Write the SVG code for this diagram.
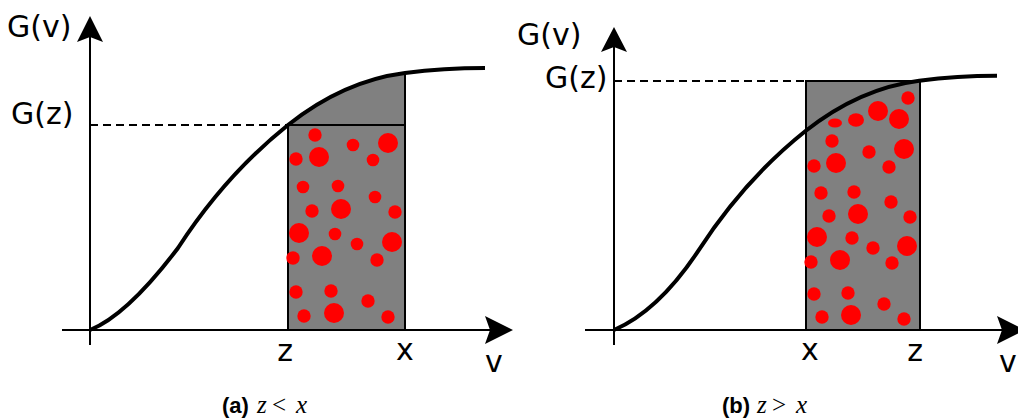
<svg xmlns="http://www.w3.org/2000/svg" width="1018" height="418" viewBox="0 0 1018 418">
<style>
.ax{stroke:#000;stroke-width:2;fill:none}
.cv{stroke:#000;stroke-width:4;fill:none;stroke-linecap:butt}
.box{fill:#808080;stroke:#000;stroke-width:2}
.dash{stroke:#000;stroke-width:2;stroke-dasharray:8,5;fill:none}
.dot{fill:#ff0000}
.lbl{font-family:"DejaVu Sans",sans-serif;font-size:30px;fill:#000}
.cap{font-family:"Liberation Sans",Arial,sans-serif;font-weight:bold;font-size:22px;fill:#000}
.math{font-family:"Liberation Serif","Times New Roman",serif;font-size:25px;fill:#000}
.head{fill:#000}
</style>
<g id="panel-a">
  <g id="a-region">
    <path class="box" d="M288,125 C327,94 366,78 405,73 L405,125 Z"/>
    <rect class="box" x="288" y="125" width="117" height="205"/>
  </g>
  <g id="a-dots">
    <circle class="dot" cx="315" cy="135" r="6.7"/>
    <circle class="dot" cx="353" cy="145" r="6.3"/>
    <circle class="dot" cx="388" cy="143" r="10"/>
    <circle class="dot" cx="296" cy="159" r="6.7"/>
    <circle class="dot" cx="319" cy="157" r="10"/>
    <circle class="dot" cx="373" cy="160" r="6.3"/>
    <circle class="dot" cx="303" cy="187" r="6.3"/>
    <circle class="dot" cx="338" cy="186" r="6.3"/>
    <circle class="dot" cx="375" cy="197" r="6.3"/>
    <circle class="dot" cx="312" cy="211" r="6.7"/>
    <circle class="dot" cx="341" cy="209" r="10"/>
    <circle class="dot" cx="395" cy="212" r="6.7"/>
    <circle class="dot" cx="299" cy="233" r="10"/>
    <circle class="dot" cx="335" cy="234" r="6.3"/>
    <circle class="dot" cx="357" cy="244" r="6.3"/>
    <circle class="dot" cx="392" cy="242" r="10"/>
    <circle class="dot" cx="293" cy="258" r="6.7"/>
    <circle class="dot" cx="322" cy="256" r="10"/>
    <circle class="dot" cx="377" cy="260" r="6.7"/>
    <circle class="dot" cx="296" cy="292" r="6.7"/>
    <circle class="dot" cx="331" cy="291" r="6.7"/>
    <circle class="dot" cx="368" cy="301" r="6.7"/>
    <circle class="dot" cx="304" cy="316" r="6.7"/>
    <circle class="dot" cx="334" cy="313" r="10"/>
    <circle class="dot" cx="388" cy="317" r="6.7"/>
  </g>
  <g id="a-connectors">
    <line class="ax" x1="90" y1="345" x2="90" y2="36"/>
    <path class="head" d="M90,16 L103,42 L90,37 L77,42 Z"/>
    <line class="ax" x1="62" y1="330" x2="492" y2="330"/>
    <path class="head" d="M513,330 L485,344 L490,330 L485,316 Z"/>
    <line class="dash" x1="90" y1="125" x2="288" y2="125"/>
    <path class="cv" d="M90,330 C120,318 150,285 178,248 C213,194 248,157 288,125 C327,94 366,78 405,73 C432,69.5 460,68 485,68"/>
  </g>
  <g id="a-labels">
    <text class="lbl" x="7" y="37">G(v)</text>
    <text class="lbl" x="11" y="124">G(z)</text>
    <text class="lbl" x="285" y="361" text-anchor="middle">z</text>
    <text class="lbl" x="405" y="360" text-anchor="middle">x</text>
    <text class="lbl" x="494" y="372" text-anchor="middle">v</text>
    <text class="cap" x="222" y="413">(a)</text>
    <text class="math" x="257" y="413" font-style="italic">z</text>
    <text class="math" x="272" y="413">&lt;</text>
    <text class="math" x="296" y="413" font-style="italic">x</text>
  </g>
</g>
<g id="panel-b">
  <g id="b-region">
    <rect class="box" x="806" y="81" width="114" height="249"/>
  </g>
  <g id="b-dots">
    <circle class="dot" cx="908" cy="98" r="6.7"/>
    <circle class="dot" cx="878" cy="111" r="10"/>
    <circle class="dot" cx="899" cy="119" r="10"/>
    <ellipse class="dot" cx="856" cy="120" rx="8" ry="6.7"/>
    <ellipse class="dot" cx="835" cy="123" rx="7" ry="4.5"/>
    <circle class="dot" cx="832" cy="141" r="6.7"/>
    <circle class="dot" cx="869" cy="152" r="6.7"/>
    <circle class="dot" cx="904" cy="149" r="10"/>
    <circle class="dot" cx="814" cy="166" r="6.7"/>
    <circle class="dot" cx="836" cy="163" r="10"/>
    <circle class="dot" cx="889" cy="167" r="6.7"/>
    <circle class="dot" cx="821" cy="193" r="6.7"/>
    <circle class="dot" cx="854" cy="192" r="6.7"/>
    <circle class="dot" cx="891" cy="202" r="6.7"/>
    <circle class="dot" cx="829" cy="216" r="6.7"/>
    <circle class="dot" cx="858" cy="214" r="10"/>
    <circle class="dot" cx="910" cy="217" r="6.7"/>
    <circle class="dot" cx="817" cy="237" r="10"/>
    <circle class="dot" cx="852" cy="238" r="6.7"/>
    <circle class="dot" cx="873" cy="248" r="6.7"/>
    <circle class="dot" cx="907" cy="246" r="10"/>
    <circle class="dot" cx="811" cy="262" r="6.7"/>
    <circle class="dot" cx="840" cy="260" r="10"/>
    <circle class="dot" cx="892" cy="263" r="6.7"/>
    <circle class="dot" cx="814" cy="294" r="6.7"/>
    <circle class="dot" cx="848" cy="293" r="6.7"/>
    <circle class="dot" cx="884" cy="304" r="6.7"/>
    <circle class="dot" cx="822" cy="317" r="6.7"/>
    <circle class="dot" cx="851" cy="315" r="10"/>
    <circle class="dot" cx="904" cy="319" r="6.7"/>
  </g>
  <g id="b-connectors">
    <line class="ax" x1="614" y1="345" x2="614" y2="47"/>
    <path class="head" d="M614,27 L627,52 L614,47 L601,52 Z"/>
    <line class="ax" x1="585" y1="330" x2="1005" y2="330"/>
    <path class="head" d="M1025,330 L997,344 L1002,330 L997,316 Z"/>
    <line class="dash" x1="614" y1="81" x2="806" y2="81"/>
    <path class="cv" d="M614,330 C642,318 671,292 698.6,250.4 C732.6,198 766.6,162 805.5,131 C843.4,101 881.3,85.5 919.2,80.7 C945.5,77.3 972.7,75.8 997,75.8"/>
  </g>
  <g id="b-labels">
    <text class="lbl" x="517" y="45">G(v)</text>
    <text class="lbl" x="545" y="88">G(z)</text>
    <text class="lbl" x="810" y="360" text-anchor="middle">x</text>
    <text class="lbl" x="915" y="361" text-anchor="middle">z</text>
    <text class="lbl" x="1008" y="372" text-anchor="middle">v</text>
    <text class="cap" x="722" y="413">(b)</text>
    <text class="math" x="757" y="413" font-style="italic">z</text>
    <text class="math" x="772" y="413">&gt;</text>
    <text class="math" x="796" y="413" font-style="italic">x</text>
  </g>
</g>
</svg>
